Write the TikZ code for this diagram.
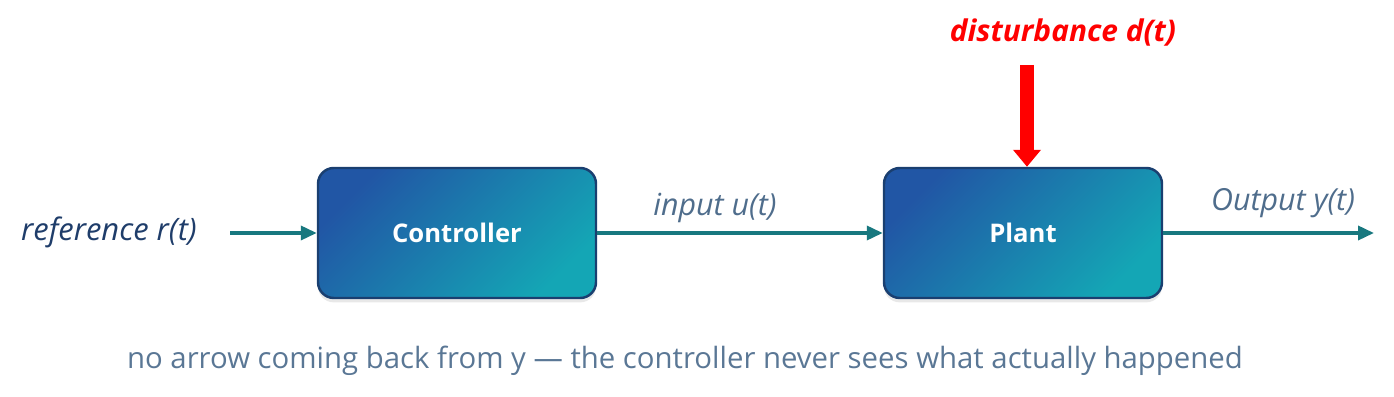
\documentclass[tikz,border=0pt]{standalone}
\usepackage{fontspec}
\setmainfont{Open Sans}
\usetikzlibrary{arrows.meta, positioning, calc, shadows}
\definecolor{boxtop}{HTML}{2156A5}
\definecolor{boxbot}{HTML}{14A6B5}
\definecolor{boxline}{HTML}{1A3F70}
\definecolor{sigline}{HTML}{18787F}
\definecolor{reftext}{HTML}{1F3D6A}
\definecolor{labtext}{HTML}{4F6D8C}
\definecolor{notetext}{HTML}{5A7795}
\definecolor{distred}{HTML}{FF0000}
\tikzset{
  block/.style = {draw=boxline, line width=1.4pt, rounded corners=9pt,
                  minimum width=5.56cm, minimum height=2.6cm,
                  left color=boxtop, right color=boxbot, shading angle=45,
                  drop shadow={shadow xshift=0pt, shadow yshift=-2.5pt, opacity=0.18},
                  text=white, font=\fontsize{14.6}{17}\selectfont\bfseries},
  sig/.style   = {-{Triangle[length=3.2mm, width=2.8mm]}, line width=2pt, draw=sigline},
  dsig/.style  = {-{Triangle[length=3.4mm, width=5.4mm]}, line width=8pt, draw=distred},
  lab/.style   = {font=\fontsize{17.3}{20}\selectfont\itshape, text=labtext},
}

\begin{document}
\begin{tikzpicture}
\useasboundingbox (0,0) rectangle (27.88,7.94);

% =========================================================================
% Blocks
% =========================================================================
\node[block] (ctrl)  at (9.14,3.28)  {Controller};
\node[block] (plant) at (20.46,3.28) {Plant};

% =========================================================================
% Signals
% =========================================================================
\node[font=\fontsize{17.6}{20}\selectfont\itshape, text=reftext, anchor=east] (ref)
  at (4.06,3.30) {reference r(t)};
\coordinate (refend) at (4.6,3.28);
\coordinate (outend) at (27.48,3.28);

\draw[sig] (refend) -- (ctrl.west);
\draw[sig] (ctrl.east) -- (plant.west);
\draw[sig] (plant.east) -- (outend);

\node[lab] (uin)  at (14.3,3.78)  {input u(t)};
\node[lab] (yout) at (25.66,3.88) {Output y(t)};

% =========================================================================
% Disturbance
% =========================================================================
\node[font=\fontsize{17}{20}\selectfont\bfseries\itshape, text=distred] (dlab)
  at (21.26,7.28) {disturbance d(t)};
\coordinate (dtop) at (20.54,6.64);
\draw[dsig] (dtop) -- (dtop |- plant.north);

% Note
\node[font=\fontsize{16.7}{20}\selectfont, text=notetext] (note) at (13.7,0.72)
  {no arrow coming back from y --- the controller never sees what actually happened};

\end{tikzpicture}
\end{document}
